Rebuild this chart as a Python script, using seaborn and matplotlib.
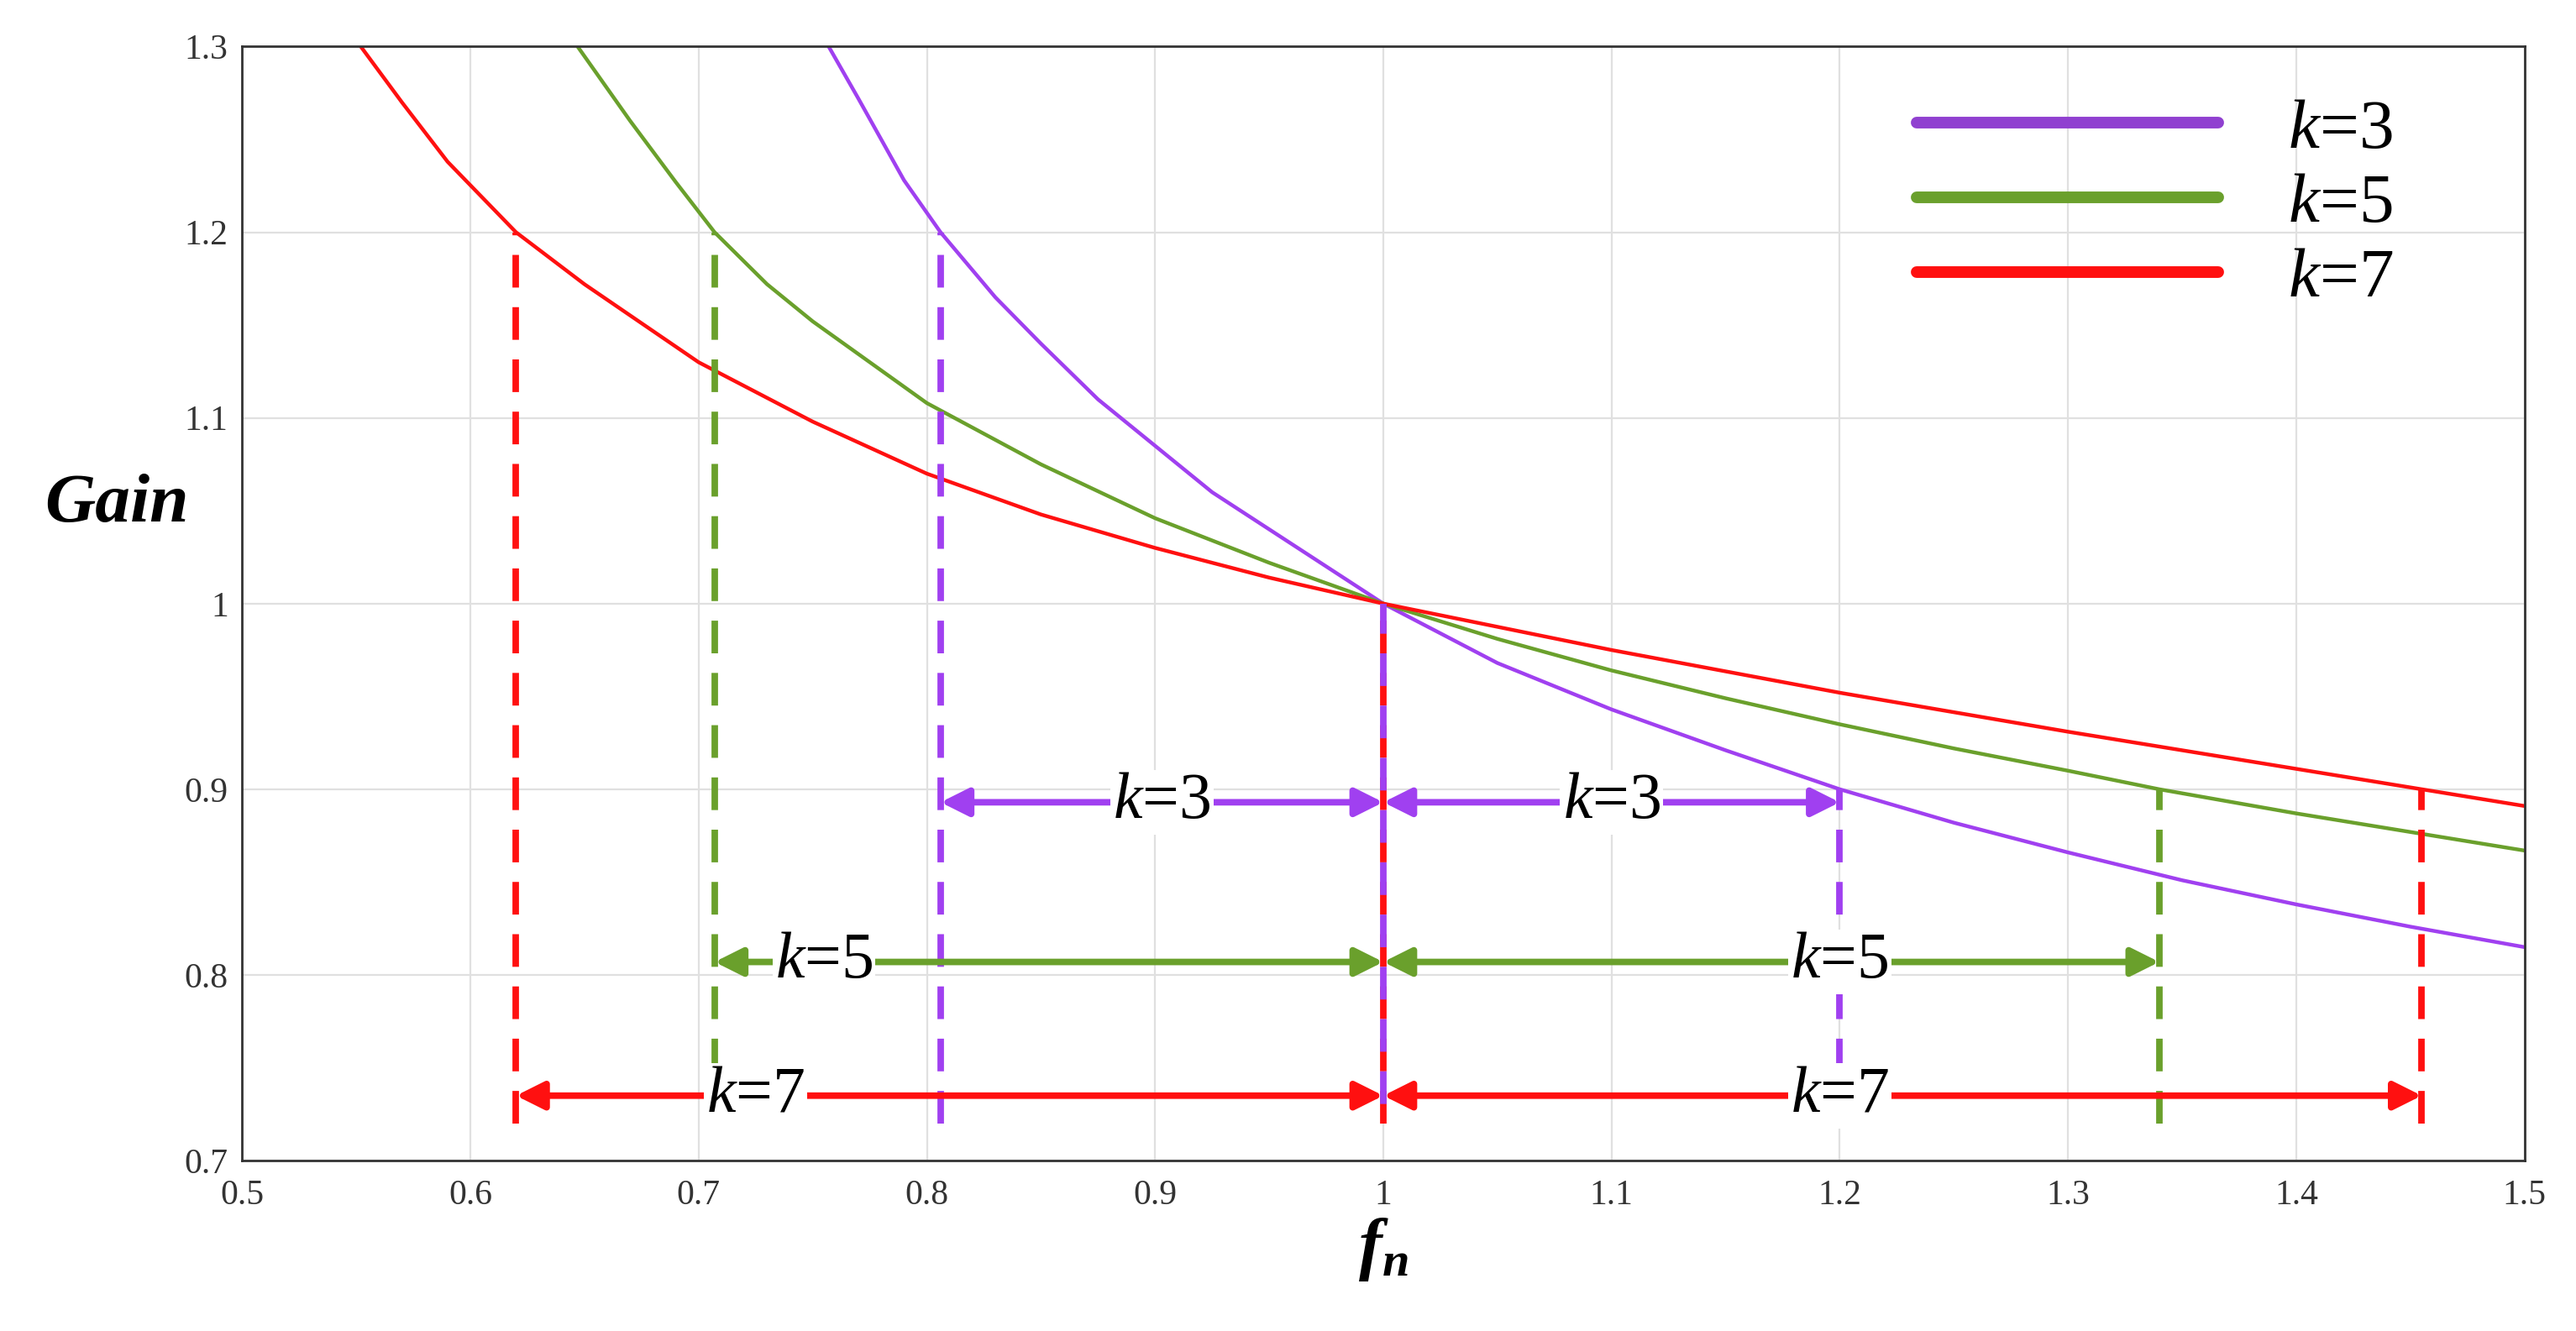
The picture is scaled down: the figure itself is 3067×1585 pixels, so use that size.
import matplotlib.pyplot as plt
import seaborn as sns
import pandas as pd

sns.set_theme(style="whitegrid")
plt.rcParams["font.family"] = ["Liberation Serif", "DejaVu Serif"]
plt.rcParams["mathtext.fontset"] = "custom"
plt.rcParams["mathtext.it"] = "Liberation Serif:italic"
plt.rcParams["mathtext.rm"] = "Liberation Serif"
plt.rcParams["mathtext.bf"] = "Liberation Serif:bold:italic"

# curves
fn_k3 = [0.757, 0.77, 0.79, 0.806, 0.83, 0.85, 0.875, 0.9, 0.925, 0.95, 0.975, 1.0,
         1.05, 1.1, 1.15, 1.2, 1.25, 1.3, 1.35, 1.4, 1.45, 1.5]
gain_k3 = [1.3, 1.272, 1.228, 1.2, 1.165, 1.14, 1.11, 1.085, 1.06, 1.04, 1.02, 1.0,
           0.968, 0.943, 0.921, 0.9, 0.882, 0.866, 0.851, 0.838, 0.826, 0.815]
fn_k5 = [0.647, 0.67, 0.69, 0.707, 0.73, 0.75, 0.775, 0.8, 0.85, 0.9, 0.95, 1.0,
         1.05, 1.1, 1.15, 1.2, 1.25, 1.3, 1.34, 1.4, 1.45, 1.5]
gain_k5 = [1.3, 1.26, 1.227, 1.2, 1.172, 1.152, 1.13, 1.108, 1.075, 1.046, 1.022, 1.0,
           0.981, 0.964, 0.949, 0.935, 0.922, 0.91, 0.9, 0.887, 0.877, 0.867]
fn_k7 = [0.552, 0.57, 0.59, 0.62, 0.65, 0.7, 0.75, 0.8, 0.85, 0.9, 0.95, 1.0,
         1.1, 1.2, 1.3, 1.4, 1.455, 1.5]
gain_k7 = [1.3, 1.27, 1.238, 1.2, 1.172, 1.13, 1.098, 1.07, 1.048, 1.03, 1.014, 1.0,
           0.975, 0.952, 0.931, 0.911, 0.9, 0.891]

labels = ["k=3", "k=5", "k=7"]
colors = ["#a040f0", "#6aa02c", "#ff1010"]
legend_colors = ["#9040d0", "#6aa02c", "#ff1010"]
# band limits (low fn, high fn) and arrow heights
band_lo = [0.806, 0.707, 0.62]
band_hi = [1.2, 1.34, 1.455]
arrow_y = [0.893, 0.807, 0.735]

rows = []
for lab, xs, ys in zip(labels, [fn_k3, fn_k5, fn_k7], [gain_k3, gain_k5, gain_k7]):
    rows += [{"fn": x, "gain": y, "k": lab} for x, y in zip(xs, ys)]
df = pd.DataFrame(rows)

fig = plt.figure(figsize=(15.335, 7.925), dpi=200)
ax = fig.add_axes([0.094, 0.128, 0.886, 0.837])
sns.lineplot(data=df, x="fn", y="gain", hue="k", palette=colors, sort=False,
             linewidth=1.6, legend=False, ax=ax)

for c, lo, hi, ay in zip(colors, band_lo, band_hi, arrow_y):
    dash = dict(color=c, lw=2.8, ls=(0, (5, 3)))
    ax.plot([lo, lo], [0.72, 1.2], **dash)
    ax.plot([hi, hi], [0.72, 0.9], **dash)
    ap = dict(arrowstyle="<|-|>", color=c, lw=2.8, mutation_scale=25, shrinkA=0, shrinkB=0)
    ax.annotate("", xy=(lo, ay), xytext=(1.0, ay), arrowprops=ap)
    ax.annotate("", xy=(1.0, ay), xytext=(hi, ay), arrowprops=ap)
ax.plot([1.0, 1.0], [0.72, 1.0], color=colors[2], lw=2.8, ls=(0, (5, 3)))
ax.plot([1.0, 1.0], [0.72, 1.0], color=colors[0], lw=2.8, ls=(5, (5, 3)))

txt = dict(fontsize=28, ha="center", va="center", color="black",
           bbox=dict(facecolor="white", edgecolor="none", pad=1))
ax.text(0.903, 0.893, "$k$=3", **txt)
ax.text(1.1, 0.893, "$k$=3", **txt)
ax.text(0.755, 0.807, "$k$=5", **txt)
ax.text(1.2, 0.807, "$k$=5", **txt)
ax.text(0.725, 0.735, "$k$=7", **txt)
ax.text(1.2, 0.735, "$k$=7", **txt)

handles = [plt.Line2D([], [], color=c, lw=5) for c in legend_colors]
leg = ax.legend(handles, ["$k$=3", "$k$=5", "$k$=7"], loc="upper right",
                fontsize=30, frameon=False, handlelength=4.3, labelspacing=0.15,
                handletextpad=1.0, bbox_to_anchor=(0.97, 1.01))
for t in leg.get_texts():
    t.set_color("black")

ax.set_xlim(0.5, 1.5)
ax.set_ylim(0.7, 1.3)
ax.set_xticks([0.5 + 0.1 * i for i in range(11)])
ax.set_xticklabels(["0.5", "0.6", "0.7", "0.8", "0.9", "1", "1.1", "1.2", "1.3", "1.4", "1.5"])
ax.set_yticks([0.7 + 0.1 * i for i in range(7)])
ax.set_yticklabels(["0.7", "0.8", "0.9", "1", "1.1", "1.2", "1.3"])
ax.tick_params(labelsize=15, colors="#333333", direction="in", length=4)
ax.tick_params(axis="x", pad=8)
ax.tick_params(axis="y", pad=6)
ax.grid(color="#e0e0e0", lw=0.8)
for s in ax.spines.values():
    s.set_color("#333333")
    s.set_linewidth(1.0)
ax.set_xlabel("$\\mathbf{f_n}$", fontsize=30, labelpad=2, color="black")
ax.set_ylabel("Gain", fontsize=30, rotation=0, fontweight="bold", fontstyle="italic",
              color="black")
ax.yaxis.set_label_coords(-0.055, 0.56)

fig.savefig("out.png", dpi=200)
